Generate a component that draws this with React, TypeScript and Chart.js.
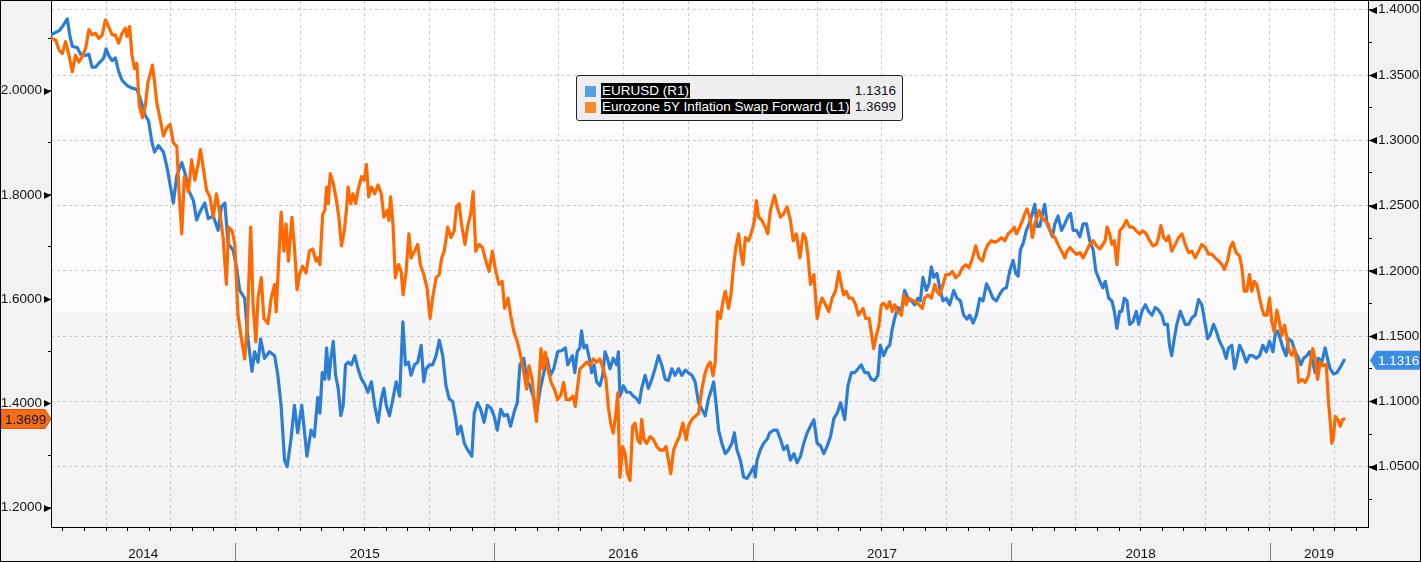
import React, { useEffect, useRef } from "react";
import { Chart, registerables } from "chart.js";

Chart.register(...registerables);

// ---- DATA (x = months since Jan 2014, y = value) ----
const seriesNames = ["EURUSD (R1)", "Eurozone 5Y Inflation Swap Forward (L1)"];
const years = [2014, 2015, 2016, 2017, 2018, 2019];
const xRange = [3.444, 64.55];
const leftAxisRange = [1.1626, 2.172];
const rightAxisRange = [1.0038, 1.4067];
const leftTicks = [1.2, 1.3, 1.4, 1.5, 1.6, 1.7, 1.8, 1.9, 2.0, 2.1];
const leftLabeled = [1.2, 1.4, 1.6, 1.8, 2.0];
const rightTicks = [1.025, 1.05, 1.075, 1.1, 1.125, 1.15, 1.175, 1.2, 1.225, 1.25, 1.275, 1.3, 1.325, 1.35, 1.375, 1.4];
const rightLabeled = [1.05, 1.1, 1.15, 1.2, 1.25, 1.3, 1.35, 1.4];
const bandEdges = [1.3056, 1.1681, 1.0384];

const eurusdPoints: [number, number][] = [
  [3.46,1.381],[3.82,1.384],[3.97,1.387],[4.20,1.393],[4.31,1.381],[4.43,1.372],[4.66,1.371],[4.82,1.366],[5.05,1.365],[5.20,1.366],[5.35,1.356],[5.51,1.356],[5.66,1.359],[5.89,1.363],[6.00,1.370],[6.12,1.365],[6.28,1.361],[6.43,1.363],[6.58,1.353],[6.74,1.346],[6.97,1.342],[7.20,1.340],[7.43,1.339],[7.58,1.332],[7.82,1.319],[7.97,1.315],[8.12,1.299],[8.25,1.291],[8.43,1.296],[8.66,1.291],[8.82,1.280],[8.97,1.266],[9.12,1.252],[9.28,1.273],[9.51,1.283],[9.66,1.275],[9.82,1.262],[10.05,1.254],[10.20,1.239],[10.35,1.245],[10.58,1.252],[10.74,1.240],[10.97,1.242],[11.20,1.231],[11.35,1.249],[11.51,1.252],[11.66,1.221],[11.89,1.216],[12.05,1.203],[12.20,1.185],[12.43,1.179],[12.58,1.148],[12.77,1.123],[12.89,1.138],[13.05,1.130],[13.17,1.148],[13.35,1.133],[13.58,1.138],[13.82,1.135],[13.97,1.120],[14.12,1.097],[14.28,1.055],[14.40,1.050],[14.58,1.071],[14.74,1.097],[14.89,1.076],[15.08,1.097],[15.32,1.058],[15.51,1.078],[15.66,1.073],[15.82,1.103],
  [15.92,1.091],[16.03,1.122],[16.15,1.117],[16.23,1.141],[16.34,1.117],[16.43,1.133],[16.54,1.146],[16.65,1.120],[16.77,1.110],[16.89,1.089],[17.00,1.097],[17.11,1.128],[17.23,1.130],[17.38,1.128],[17.54,1.135],[17.69,1.125],[17.85,1.117],[18.00,1.113],[18.15,1.107],[18.31,1.115],[18.46,1.097],[18.62,1.084],[18.77,1.102],[18.89,1.110],[19.00,1.097],[19.15,1.089],[19.31,1.102],[19.46,1.115],[19.62,1.104],[19.77,1.161],[19.89,1.128],[20.03,1.130],[20.15,1.120],[20.31,1.128],[20.46,1.130],[20.62,1.143],[20.74,1.115],[20.85,1.125],[21.00,1.128],[21.15,1.128],[21.31,1.135],[21.46,1.147],[21.62,1.135],[21.77,1.112],[21.92,1.102],[22.08,1.100],[22.23,1.086],[22.31,1.075],[22.46,1.081],[22.62,1.068],[22.77,1.063],[22.97,1.058],[23.08,1.091],[23.23,1.099],[23.38,1.094],[23.54,1.084],[23.69,1.097],[23.85,1.095],[24.00,1.089],[24.15,1.078],[24.31,1.094],[24.46,1.089],[24.62,1.090],[24.77,1.081],[24.95,1.093],[25.08,1.099],[25.20,1.128],[25.38,1.133],[25.51,1.117],[25.66,1.112],[25.85,1.102],[26.00,1.094],[26.15,1.110],[26.31,1.122],[26.46,1.133],[26.62,1.120],[26.77,1.125],[26.95,1.138],[27.15,1.139],[27.31,1.141],[27.42,1.128],[27.57,1.133],
  [27.64,1.135],[27.75,1.122],[27.86,1.138],[27.98,1.141],[28.06,1.154],[28.17,1.141],[28.29,1.143],[28.42,1.133],[28.53,1.122],[28.64,1.128],[28.76,1.115],[28.91,1.112],[29.04,1.120],[29.15,1.138],[29.26,1.133],[29.38,1.125],[29.53,1.133],[29.69,1.128],[29.77,1.138],[29.84,1.104],[30.00,1.112],[30.16,1.107],[30.31,1.107],[30.47,1.104],[30.62,1.102],[30.74,1.099],[30.85,1.110],[31.01,1.120],[31.16,1.110],[31.32,1.117],[31.47,1.125],[31.63,1.135],[31.78,1.128],[31.94,1.117],[32.09,1.116],[32.25,1.125],[32.40,1.120],[32.56,1.125],[32.71,1.120],[32.87,1.124],[33.02,1.122],[33.18,1.120],[33.33,1.115],[33.49,1.099],[33.64,1.094],[33.80,1.089],[33.95,1.102],[34.11,1.110],[34.19,1.115],[34.31,1.097],[34.42,1.078],[34.57,1.068],[34.73,1.060],[34.88,1.063],[35.04,1.068],[35.15,1.076],[35.27,1.063],[35.43,1.055],[35.58,1.042],[35.74,1.041],[35.89,1.045],[36.05,1.050],[36.12,1.042],[36.20,1.055],[36.36,1.063],[36.51,1.068],[36.67,1.071],[36.79,1.076],[36.98,1.078],[37.13,1.078],[37.29,1.071],[37.44,1.063],[37.60,1.066],[37.75,1.055],[37.91,1.060],[38.06,1.053],[38.22,1.058],[38.37,1.068],[38.53,1.076],[38.68,1.081],[38.84,1.086],[38.99,1.068],[39.15,1.066],[39.30,1.060],[39.46,1.066],[39.61,1.073],[39.77,1.087],[39.92,1.091],[40.08,1.099],
  [40.27,1.086],[40.42,1.112],[40.58,1.122],[40.73,1.122],[40.89,1.125],[41.04,1.128],[41.20,1.122],[41.35,1.122],[41.50,1.117],[41.66,1.116],[41.81,1.120],[41.92,1.143],[42.08,1.135],[42.23,1.141],[42.36,1.143],[42.46,1.154],[42.59,1.164],[42.74,1.172],[42.90,1.169],[43.05,1.185],[43.21,1.179],[43.36,1.177],[43.52,1.174],[43.67,1.179],[43.78,1.177],[43.90,1.195],[44.06,1.185],[44.18,1.190],[44.29,1.203],[44.40,1.195],[44.55,1.198],[44.68,1.187],[44.83,1.177],[44.99,1.179],[45.14,1.174],[45.33,1.185],[45.48,1.179],[45.64,1.177],[45.79,1.166],[45.95,1.163],[46.07,1.166],[46.23,1.160],[46.38,1.166],[46.54,1.179],[46.69,1.177],[46.85,1.190],[47.00,1.185],[47.15,1.179],[47.31,1.177],[47.46,1.182],[47.62,1.186],[47.77,1.187],[47.93,1.200],[48.08,1.208],[48.21,1.198],[48.32,1.196],[48.42,1.216],[48.55,1.221],[48.70,1.231],[48.83,1.236],[48.94,1.242],[49.09,1.251],[49.20,1.234],[49.32,1.234],[49.45,1.244],[49.55,1.251],[49.66,1.236],[49.79,1.231],[49.91,1.226],[50.02,1.236],[50.17,1.242],[50.33,1.231],[50.48,1.236],[50.64,1.242],[50.75,1.244],[50.87,1.231],[51.03,1.231],[51.18,1.226],[51.33,1.236],[51.49,1.236],[51.64,1.223],[51.80,1.216],[51.92,1.200],[52.11,1.192],
  [52.25,1.187],[52.36,1.192],[52.52,1.179],[52.67,1.177],[52.78,1.169],[52.90,1.156],[53.03,1.169],[53.13,1.169],[53.24,1.179],[53.37,1.177],[53.49,1.159],[53.64,1.161],[53.80,1.169],[53.91,1.159],[54.06,1.169],[54.22,1.174],[54.37,1.169],[54.53,1.166],[54.68,1.172],[54.83,1.170],[54.99,1.166],[55.10,1.159],[55.25,1.159],[55.34,1.143],[55.44,1.135],[55.56,1.148],[55.68,1.159],[55.84,1.169],[55.96,1.164],[56.07,1.159],[56.23,1.159],[56.38,1.164],[56.53,1.166],[56.69,1.178],[56.84,1.174],[57.00,1.159],[57.11,1.148],[57.23,1.151],[57.38,1.159],[57.51,1.154],[57.66,1.146],[57.82,1.141],[57.97,1.133],[58.08,1.141],[58.23,1.143],[58.36,1.125],[58.47,1.133],[58.59,1.143],[58.74,1.138],[58.90,1.130],[59.05,1.135],[59.21,1.135],[59.36,1.133],[59.52,1.135],[59.67,1.143],[59.83,1.138],[59.98,1.146],[60.14,1.138],[60.24,1.151],[60.35,1.154],[60.48,1.148],[60.60,1.141],[60.75,1.135],[60.86,1.148],[61.02,1.146],[61.17,1.138],[61.33,1.133],[61.43,1.128],[61.56,1.133],[61.71,1.135],[61.84,1.138],[61.94,1.133],[62.10,1.122],[62.25,1.133],[62.41,1.130],[62.56,1.141],[62.67,1.133],[62.79,1.125],[62.95,1.121],[63.10,1.122],[63.26,1.126],[63.44,1.1316]
];

const inflationPoints: [number, number][] = [
  [3.46,2.100],[3.66,2.097],[3.82,2.078],[3.97,2.071],[4.12,2.094],[4.28,2.068],[4.43,2.036],[4.58,2.068],[4.74,2.055],[4.89,2.065],[5.05,2.081],[5.20,2.117],[5.35,2.107],[5.51,2.110],[5.66,2.100],[5.82,2.107],[5.97,2.136],[6.12,2.123],[6.28,2.107],[6.43,2.107],[6.58,2.091],[6.74,2.110],[6.89,2.120],[6.97,2.104],[7.09,2.123],[7.20,2.068],[7.32,2.042],[7.43,2.052],[7.54,1.971],[7.69,1.948],[7.82,1.971],[7.94,2.016],[8.05,2.032],[8.15,2.049],[8.25,2.016],[8.35,1.977],[8.51,1.945],[8.66,1.913],[8.82,1.929],[8.97,1.935],[9.12,1.900],[9.28,1.893],[9.38,1.809],[9.51,1.725],[9.63,1.835],[9.82,1.806],[9.97,1.867],[10.12,1.828],[10.28,1.861],[10.38,1.887],[10.51,1.851],[10.66,1.809],[10.82,1.796],[10.97,1.757],[11.12,1.802],[11.28,1.764],[11.43,1.718],[11.58,1.628],[11.69,1.738],[11.85,1.731],[11.97,1.705],[12.12,1.569],[12.28,1.524],[12.43,1.485],[12.55,1.550],[12.71,1.738],[12.82,1.589],[12.95,1.518],[13.05,1.602],[13.20,1.641],[13.32,1.563],[13.51,1.553],[13.66,1.602],[13.82,1.628],[13.89,1.576],[14.00,1.666],[14.12,1.767],[14.25,1.692],[14.35,1.744],[14.46,1.673],[14.62,1.757],[14.74,1.699],[14.86,1.618],[14.97,1.647],[15.12,1.663],[15.28,1.650],[15.43,1.692],[15.58,1.696],[15.74,1.673],
  [15.82,1.679],[15.92,1.666],[16.05,1.763],[16.15,1.770],[16.23,1.815],[16.31,1.783],[16.40,1.841],[16.54,1.822],[16.69,1.789],[16.80,1.757],[16.92,1.702],[17.05,1.731],[17.15,1.770],[17.23,1.815],[17.35,1.783],[17.46,1.802],[17.58,1.783],[17.69,1.809],[17.85,1.835],[17.97,1.828],[18.08,1.858],[18.18,1.796],[18.31,1.815],[18.46,1.802],[18.62,1.819],[18.77,1.802],[18.89,1.757],[19.05,1.770],[19.12,1.751],[19.20,1.796],[19.31,1.744],[19.42,1.641],[19.57,1.666],[19.69,1.653],[19.78,1.608],[19.92,1.653],[20.05,1.725],[20.15,1.679],[20.31,1.692],[20.46,1.705],[20.58,1.666],[20.74,1.647],[20.89,1.621],[21.03,1.563],[21.15,1.602],[21.31,1.641],[21.46,1.647],[21.57,1.679],[21.69,1.692],[21.85,1.738],[22.00,1.718],[22.15,1.731],[22.26,1.777],[22.38,1.783],[22.49,1.744],[22.65,1.705],[22.77,1.738],[22.92,1.764],[23.03,1.806],[23.15,1.692],[23.31,1.705],[23.46,1.699],[23.62,1.673],[23.77,1.653],[23.92,1.692],[24.08,1.653],[24.23,1.628],[24.38,1.634],[24.49,1.582],[24.65,1.602],[24.77,1.569],[24.92,1.537],[25.08,1.518],[25.23,1.492],[25.38,1.459],[25.51,1.427],[25.62,1.472],[25.77,1.446],[25.88,1.394],[25.97,1.365],[26.08,1.440],[26.18,1.505],[26.28,1.466],[26.38,1.498],[26.49,1.466],[26.65,1.440],[26.80,1.427],[26.95,1.407],[27.11,1.417],[27.23,1.440],[27.35,1.407],[27.51,1.407],[27.66,1.414],[27.77,1.394],[27.88,1.433],
  [27.98,1.466],[28.14,1.472],[28.29,1.479],[28.45,1.472],[28.60,1.485],[28.76,1.479],[28.91,1.485],[29.07,1.466],[29.19,1.446],[29.30,1.394],[29.41,1.362],[29.53,1.343],[29.64,1.375],[29.74,1.420],[29.84,1.258],[29.97,1.317],[30.08,1.304],[30.19,1.265],[30.31,1.252],[30.43,1.356],[30.54,1.362],[30.67,1.330],[30.78,1.323],[30.85,1.369],[30.96,1.330],[31.08,1.323],[31.24,1.336],[31.40,1.330],[31.55,1.317],[31.71,1.310],[31.86,1.310],[31.98,1.317],[32.09,1.291],[32.20,1.265],[32.33,1.310],[32.45,1.323],[32.60,1.336],[32.76,1.362],[32.91,1.330],[33.02,1.356],[33.18,1.369],[33.33,1.375],[33.49,1.381],[33.64,1.427],[33.80,1.459],[33.91,1.472],[34.03,1.479],[34.16,1.453],[34.26,1.479],[34.37,1.576],[34.50,1.563],[34.62,1.595],[34.73,1.615],[34.88,1.582],[34.99,1.608],[35.12,1.666],[35.22,1.699],[35.35,1.725],[35.46,1.686],[35.55,1.666],[35.66,1.718],[35.81,1.712],[35.97,1.731],[36.08,1.751],[36.17,1.789],[36.28,1.757],[36.43,1.751],[36.59,1.738],[36.70,1.725],[36.82,1.770],[37.01,1.799],[37.13,1.777],[37.29,1.757],[37.44,1.764],[37.60,1.777],[37.75,1.751],[37.88,1.712],[38.03,1.725],[38.19,1.679],[38.34,1.725],[38.45,1.718],[38.56,1.686],[38.68,1.628],[38.84,1.647],[38.99,1.563],[39.12,1.589],[39.22,1.602],[39.38,1.589],[39.53,1.576],[39.69,1.602],[39.84,1.615],[40.00,1.653],
  [40.11,1.628],[40.22,1.608],[40.34,1.615],[40.47,1.602],[40.62,1.602],[40.78,1.589],[40.90,1.569],[41.03,1.576],[41.12,1.582],[41.24,1.563],[41.40,1.563],[41.50,1.537],[41.61,1.505],[41.74,1.530],[41.86,1.550],[41.97,1.589],[42.09,1.592],[42.23,1.582],[42.36,1.595],[42.48,1.576],[42.59,1.589],[42.74,1.576],[42.90,1.569],[43.01,1.608],[43.13,1.589],[43.25,1.602],[43.41,1.598],[43.56,1.595],[43.72,1.589],[43.87,1.582],[43.98,1.602],[44.14,1.608],[44.29,1.602],[44.45,1.628],[44.55,1.615],[44.68,1.608],[44.83,1.628],[44.96,1.647],[45.11,1.647],[45.27,1.653],[45.42,1.641],[45.58,1.647],[45.73,1.660],[45.89,1.666],[46.04,1.660],[46.20,1.679],[46.35,1.702],[46.50,1.679],[46.66,1.673],[46.78,1.692],[46.92,1.705],[47.08,1.712],[47.23,1.709],[47.39,1.712],[47.54,1.718],[47.70,1.712],[47.85,1.725],[48.01,1.731],[48.13,1.738],[48.24,1.725],[48.39,1.738],[48.52,1.751],[48.63,1.764],[48.73,1.773],[48.86,1.757],[48.98,1.718],[49.09,1.744],[49.20,1.757],[49.29,1.770],[49.40,1.757],[49.55,1.751],[49.71,1.744],[49.86,1.725],[50.02,1.718],[50.17,1.705],[50.33,1.692],[50.48,1.679],[50.59,1.692],[50.72,1.699],[50.87,1.692],[51.03,1.686],[51.18,1.689],[51.33,1.679],[51.49,1.692],[51.64,1.705],[51.80,1.712],[51.95,1.702],[52.11,1.696],
  [52.25,1.705],[52.36,1.712],[52.44,1.738],[52.56,1.725],[52.67,1.705],[52.78,1.712],[52.90,1.666],[53.03,1.731],[53.18,1.738],[53.34,1.751],[53.49,1.738],[53.64,1.738],[53.80,1.731],[53.95,1.725],[54.11,1.731],[54.26,1.725],[54.42,1.712],[54.57,1.702],[54.73,1.705],[54.83,1.718],[54.94,1.741],[55.07,1.718],[55.19,1.712],[55.30,1.721],[55.45,1.692],[55.61,1.705],[55.76,1.718],[55.92,1.725],[56.07,1.705],[56.23,1.689],[56.38,1.692],[56.53,1.679],[56.69,1.692],[56.84,1.705],[57.00,1.699],[57.15,1.686],[57.31,1.686],[57.46,1.679],[57.62,1.673],[57.77,1.666],[57.89,1.657],[58.03,1.673],[58.16,1.699],[58.28,1.709],[58.43,1.689],[58.59,1.683],[58.70,1.660],[58.81,1.615],[58.93,1.615],[59.05,1.647],[59.16,1.615],[59.27,1.634],[59.39,1.628],[59.52,1.602],[59.63,1.582],[59.73,1.569],[59.86,1.569],[59.98,1.602],[60.09,1.556],[60.20,1.537],[60.32,1.579],[60.44,1.556],[60.55,1.530],[60.68,1.550],[60.79,1.524],[60.91,1.498],[61.02,1.492],[61.13,1.505],[61.25,1.479],[61.33,1.440],[61.48,1.446],[61.63,1.440],[61.79,1.453],[61.90,1.485],[61.99,1.505],[62.10,1.485],[62.21,1.446],[62.33,1.479],[62.45,1.472],[62.61,1.475],[62.72,1.401],[62.79,1.369],[62.87,1.323],[62.95,1.336],[63.03,1.375],[63.14,1.369],[63.26,1.356],[63.37,1.369],[63.44,1.3699]
];

// ---- STYLE ----
const W = 1421;
const H = 562;
const FONT = "'Liberation Sans', Arial, sans-serif";
const FONT_SIZE = 13.5;
const BLUE = "#2d7dd2";
const ORANGE = "#fd6a02";
const GRID = "#c8c8d6";

const near = (a: number, b: number) => Math.abs(a - b) < 1e-6;
const yearMids = years.map((y) => {
  const lo = Math.max(xRange[0], (y - 2014) * 12);
  const hi = Math.min(xRange[1], (y - 2013) * 12);
  return (lo + hi) / 2;
});

const lastEur = eurusdPoints[eurusdPoints.length - 1][1];
const lastInf = inflationPoints[inflationPoints.length - 1][1];

const zeroPad = (scale: any) => {
  scale.paddingTop = 0;
  scale.paddingBottom = 0;
  scale.paddingLeft = 0;
  scale.paddingRight = 0;
};

const decorPlugin = {
  id: "decor",
  beforeDraw(chart: any) {
    const { ctx, chartArea: a, width, height } = chart;
    const yR = chart.scales.yR;
    ctx.save();
    ctx.fillStyle = "#f4f1f4";
    ctx.fillRect(0, 0, width, height);
    const ys = [a.top, ...bandEdges.map((v) => yR.getPixelForValue(v)), a.bottom];
    const cols = ["#ffffff", "#fdfafd", "#f5f5f5", "#f4f1f4"];
    for (let i = 0; i < cols.length; i++) {
      ctx.fillStyle = cols[i];
      ctx.fillRect(a.left, ys[i], a.right - a.left, ys[i + 1] - ys[i]);
    }
    ctx.restore();
  },
  afterDraw(chart: any) {
    const { ctx, chartArea: a, width, height } = chart;
    const yL = chart.scales.yL;
    const yR = chart.scales.yR;
    const xs = chart.scales.x;
    ctx.save();
    // axis pointer triangles
    ctx.fillStyle = "#000";
    leftLabeled.forEach((v) => {
      const y = Math.round(yL.getPixelForValue(v)) + 0.5;
      ctx.beginPath();
      ctx.moveTo(a.left, y);
      ctx.lineTo(a.left - 7, y - 3.5);
      ctx.lineTo(a.left - 7, y + 3.5);
      ctx.closePath();
      ctx.fill();
    });
    rightLabeled.forEach((v) => {
      const y = Math.round(yR.getPixelForValue(v)) + 0.5;
      ctx.beginPath();
      ctx.moveTo(a.right + 1, y);
      ctx.lineTo(a.right + 9, y - 3.5);
      ctx.lineTo(a.right + 9, y + 3.5);
      ctx.closePath();
      ctx.fill();
    });
    // year separators
    ctx.strokeStyle = "#808080";
    ctx.lineWidth = 1;
    years.slice(1).forEach((yr) => {
      const x = Math.round(xs.getPixelForValue((yr - 2014) * 12)) + 0.5;
      ctx.beginPath();
      ctx.moveTo(x, 543);
      ctx.lineTo(x, height);
      ctx.stroke();
    });
    // last-value tags
    ctx.font = `${FONT_SIZE}px ${FONT}`;
    ctx.textBaseline = "middle";
    const yo = yL.getPixelForValue(lastInf);
    ctx.beginPath();
    ctx.moveTo(1, yo - 9.5);
    ctx.lineTo(a.left - 6, yo - 9.5);
    ctx.lineTo(a.left, yo);
    ctx.lineTo(a.left - 6, yo + 9.5);
    ctx.lineTo(1, yo + 9.5);
    ctx.closePath();
    ctx.fillStyle = "#f36b1c";
    ctx.fill();
    ctx.strokeStyle = "#d45500";
    ctx.stroke();
    ctx.fillStyle = "#1a1a1a";
    ctx.textAlign = "left";
    ctx.fillText(lastInf.toFixed(4), 5, yo + 1);

    const yb = yR.getPixelForValue(lastEur);
    ctx.beginPath();
    ctx.moveTo(a.right + 2, yb);
    ctx.lineTo(a.right + 8, yb - 9.5);
    ctx.lineTo(width, yb - 9.5);
    ctx.lineTo(width, yb + 9.5);
    ctx.lineTo(a.right + 8, yb + 9.5);
    ctx.closePath();
    ctx.fillStyle = "#3a8de0";
    ctx.fill();
    ctx.fillStyle = "#ffffff";
    ctx.fillText(lastEur.toFixed(4), a.right + 10, yb + 1);

    // outer frame
    ctx.strokeStyle = "#000";
    ctx.lineWidth = 1;
    ctx.strokeRect(0.5, 0.5, width - 1, height - 1);
    ctx.restore();
  },
};

export default function App() {
  const canvasRef = useRef<HTMLCanvasElement | null>(null);

  useEffect(() => {
    document.body.style.margin = "0";
    const canvas = canvasRef.current;
    if (!canvas) return;
    const tickFont = { family: FONT, size: FONT_SIZE };
    const chart = new Chart(canvas, {
      type: "line",
      data: {
        datasets: [
          {
            label: seriesNames[1],
            data: inflationPoints.map(([x, y]) => ({ x, y })),
            borderColor: ORANGE,
            yAxisID: "yL",
          },
          {
            label: seriesNames[0],
            data: eurusdPoints.map(([x, y]) => ({ x, y })),
            borderColor: BLUE,
            yAxisID: "yR",
          },
        ],
      },
      options: {
        responsive: false,
        animation: false,
        devicePixelRatio: 1,
        layout: { padding: { top: 1, left: 0, right: 0, bottom: 0 } },
        plugins: { legend: { display: false }, tooltip: { enabled: false } },
        elements: {
          point: { radius: 0 },
          line: { tension: 0, borderWidth: 3.2, borderJoinStyle: "round", borderCapStyle: "round" },
        },
        scales: {
          x: {
            type: "linear",
            position: "bottom",
            min: xRange[0],
            max: xRange[1],
            afterBuildTicks: (scale: any) => {
              const t: number[] = [];
              for (let m = Math.ceil(xRange[0]); m <= Math.floor(xRange[1]); m++) t.push(m);
              yearMids.forEach((v) => {
                if (!t.some((u) => near(u, v))) t.push(v);
              });
              t.sort((p, q) => p - q);
              scale.ticks = t.map((value) => ({ value }));
            },
            afterFit: (scale: any) => {
              scale.height = 35;
              zeroPad(scale);
            },
            ticks: {
              autoSkip: false,
              maxRotation: 0,
              minRotation: 0,
              padding: 15,
              color: "#111",
              font: tickFont,
              callback: (value: any) => {
                const i = yearMids.findIndex((m) => near(m, Number(value)));
                return i >= 0 ? String(years[i]) : "";
              },
            },
            grid: {
              drawOnChartArea: true,
              drawTicks: true,
              tickLength: 4,
              lineWidth: 1,
              color: (c: any) => {
                const v = c.tick ? c.tick.value : NaN;
                return Number.isInteger(v) && v % 3 === 0 ? GRID : "rgba(0,0,0,0)";
              },
              tickColor: (c: any) => {
                const v = c.tick ? c.tick.value : NaN;
                return Number.isInteger(v) ? "#000" : "rgba(0,0,0,0)";
              },
              tickBorderDash: [],
            },
            border: { display: true, color: "#000", width: 1, dash: [3, 3] },
          },
          yL: {
            type: "linear",
            position: "left",
            min: leftAxisRange[0],
            max: leftAxisRange[1],
            afterBuildTicks: (scale: any) => {
              scale.ticks = leftTicks.map((value) => ({ value }));
            },
            afterFit: (scale: any) => {
              scale.width = 51;
              zeroPad(scale);
            },
            ticks: {
              autoSkip: false,
              padding: 6,
              color: "#111",
              font: tickFont,
              callback: (value: any) =>
                leftLabeled.some((v) => near(v, Number(value))) ? Number(value).toFixed(4) : "",
            },
            grid: {
              drawOnChartArea: false,
              drawTicks: true,
              tickLength: 3,
              tickColor: "#000",
            },
            border: { display: true, color: "#000", width: 1 },
          },
          yR: {
            type: "linear",
            position: "right",
            min: rightAxisRange[0],
            max: rightAxisRange[1],
            afterBuildTicks: (scale: any) => {
              scale.ticks = rightTicks.map((value) => ({ value }));
            },
            afterFit: (scale: any) => {
              scale.width = 53;
              zeroPad(scale);
            },
            ticks: {
              autoSkip: false,
              padding: 6,
              color: "#111",
              font: tickFont,
              callback: (value: any) =>
                rightLabeled.some((v) => near(v, Number(value))) ? Number(value).toFixed(4) : "",
            },
            grid: {
              drawOnChartArea: true,
              drawTicks: true,
              tickLength: 4,
              lineWidth: 1,
              color: (c: any) => {
                const v = c.tick ? c.tick.value : NaN;
                return rightLabeled.some((r) => near(r, v)) ? GRID : "rgba(0,0,0,0)";
              },
              tickColor: "#000",
              tickBorderDash: [],
            },
            border: { display: true, color: "#000", width: 1, dash: [3, 3] },
          },
        },
      },
      plugins: [decorPlugin],
    } as any);
    return () => chart.destroy();
  }, []);

  const legendRow = (top: number, color: string, text: string, value: string) => (
    <>
      <div
        style={{ position: "absolute", left: 8, top: top + 3, width: 11, height: 11, background: color }}
      />
      <div
        style={{
          position: "absolute",
          left: 24,
          top,
          height: 15,
          lineHeight: "15px",
          background: "#000",
          color: "#fff",
          padding: "0 1px",
          whiteSpace: "nowrap",
        }}
      >
        {text}
      </div>
      <div
        style={{ position: "absolute", right: 6, top, height: 15, lineHeight: "15px", color: "#111" }}
      >
        {value}
      </div>
    </>
  );

  return (
    <div style={{ position: "relative", width: W, height: H, overflow: "hidden" }}>
      <canvas ref={canvasRef} width={W} height={H} style={{ display: "block", width: W, height: H }} />
      <div
        style={{
          position: "absolute",
          left: 576,
          top: 75,
          width: 327,
          height: 46,
          boxSizing: "border-box",
          background: "#efedf0",
          border: "1px solid #222",
          borderRadius: 3,
          fontFamily: FONT,
          fontSize: FONT_SIZE,
        }}
      >
        {legendRow(7, "#5a9fe0", seriesNames[0], lastEur.toFixed(4))}
        {legendRow(23, "#f58a30", seriesNames[1], lastInf.toFixed(4))}
      </div>
    </div>
  );
}
